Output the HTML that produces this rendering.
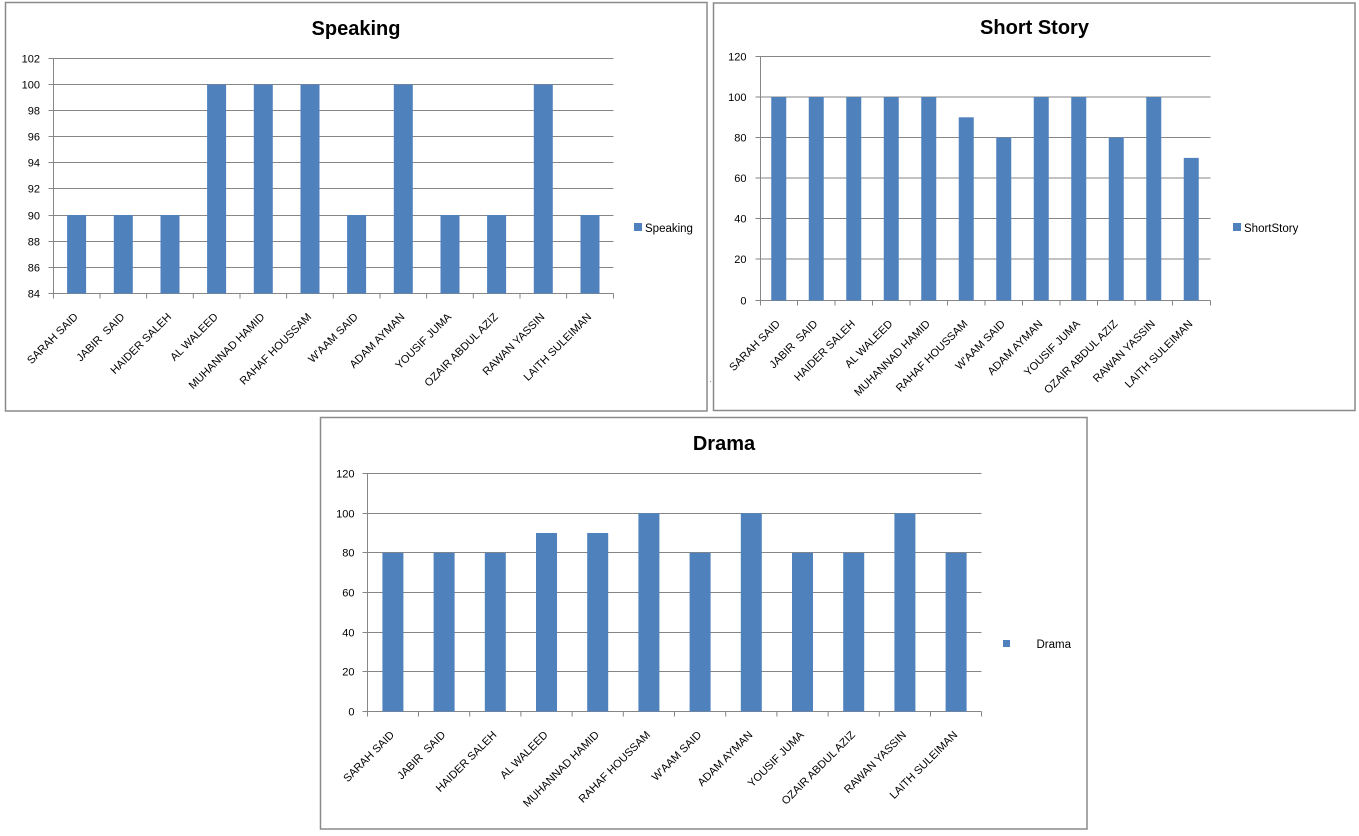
<!DOCTYPE html>
<html><head><meta charset="utf-8"><style>
html,body{margin:0;padding:0;background:#fff;}
svg{display:block;}
text{font-family:"Liberation Sans",Arial,sans-serif;fill:#000;}
.t{font-size:20px;font-weight:bold;text-anchor:middle;}
.y{font-size:11px;text-anchor:end;}
.c{font-size:11px;text-anchor:end;}
.l{font-size:11.5px;}
.g{stroke:#868686;stroke-width:1;fill:none;}
.b{fill:#4F81BD;}
.box{fill:#fff;stroke:#8a8a8a;stroke-width:1.5;}
</style></head><body>
<svg width="1359" height="836" viewBox="0 0 1359 836" xmlns="http://www.w3.org/2000/svg">
<rect x="0" y="0" width="1359" height="836" fill="#fff"/>

<!-- ================= SPEAKING ================= -->
<rect class="box" x="5.5" y="2.5" width="701.5" height="408.5"/>
<text class="t" x="356" y="35">Speaking</text>
<g class="g">
<path d="M53.5 58.5H613.5M53.5 84.5H613.5M53.5 110.5H613.5M53.5 136.5H613.5M53.5 162.5H613.5M53.5 188.5H613.5M53.5 215.5H613.5M53.5 241.5H613.5M53.5 267.5H613.5M53.5 293.5H613.5"/>
<path d="M53.5 58.5V293.5"/>
<path d="M48.5 58.5H53.5M48.5 84.5H53.5M48.5 110.5H53.5M48.5 136.5H53.5M48.5 162.5H53.5M48.5 188.5H53.5M48.5 215.5H53.5M48.5 241.5H53.5M48.5 267.5H53.5M48.5 293.5H53.5"/>
<path d="M53.5 293.5v5M100 293.5v5M146.6 293.5v5M193.3 293.5v5M240 293.5v5M286.6 293.5v5M333.3 293.5v5M380 293.5v5M426.6 293.5v5M473.3 293.5v5M520 293.5v5M566.6 293.5v5M613.5 293.5v5"/>
</g>
<g class="b">
<rect x="67.1" y="215" width="19" height="78.5"/>
<rect x="113.8" y="215" width="19" height="78.5"/>
<rect x="160.5" y="215" width="19" height="78.5"/>
<rect x="207.1" y="84.5" width="19" height="209"/>
<rect x="253.8" y="84.5" width="19" height="209"/>
<rect x="300.5" y="84.5" width="19" height="209"/>
<rect x="347.1" y="215" width="19" height="78.5"/>
<rect x="393.8" y="84.5" width="19" height="209"/>
<rect x="440.5" y="215" width="19" height="78.5"/>
<rect x="487.1" y="215" width="19" height="78.5"/>
<rect x="533.8" y="84.5" width="19" height="209"/>
<rect x="580.5" y="215" width="19" height="78.5"/>
</g>
<text class="y" x="40" y="62.5">102</text>
<text class="y" x="40" y="88.5">100</text>
<text class="y" x="40" y="114.5">98</text>
<text class="y" x="40" y="140.5">96</text>
<text class="y" x="40" y="166.5">94</text>
<text class="y" x="40" y="192.5">92</text>
<text class="y" x="40" y="219.5">90</text>
<text class="y" x="40" y="245.5">88</text>
<text class="y" x="40" y="271.5">86</text>
<text class="y" x="40" y="297.5">84</text>
<text class="c" transform="translate(78.6,317.5) rotate(-45)">SARAH SAID</text>
<text class="c" transform="translate(125.3,317.5) rotate(-45)" xml:space="preserve">JABIR  SAID</text>
<text class="c" transform="translate(172,317.5) rotate(-45)">HAIDER SALEH</text>
<text class="c" transform="translate(218.6,317.5) rotate(-45)">AL WALEED</text>
<text class="c" transform="translate(265.3,317.5) rotate(-45)">MUHANNAD HAMID</text>
<text class="c" transform="translate(312,317.5) rotate(-45)">RAHAF HOUSSAM</text>
<text class="c" transform="translate(358.6,317.5) rotate(-45)">W'AAM SAID</text>
<text class="c" transform="translate(405.3,317.5) rotate(-45)">ADAM AYMAN</text>
<text class="c" transform="translate(452,317.5) rotate(-45)">YOUSIF JUMA</text>
<text class="c" transform="translate(498.6,317.5) rotate(-45)">OZAIR ABDUL AZIZ</text>
<text class="c" transform="translate(545.3,317.5) rotate(-45)">RAWAN YASSIN</text>
<text class="c" transform="translate(592,317.5) rotate(-45)">LAITH SULEIMAN</text>
<rect class="b" x="634" y="223" width="8" height="8"/>
<text class="l" x="645" y="232">Speaking</text>

<!-- tiny dot -->
<rect x="710" y="381" width="1" height="1" fill="#999"/>

<!-- ================= SHORT STORY ================= -->
<rect class="box" x="713.5" y="3" width="641.5" height="407.5"/>
<text class="t" x="1034.5" y="34">Short Story</text>
<g class="g">
<path d="M760.5 56.5H1210.5M760.5 97H1210.5M760.5 137.5H1210.5M760.5 178H1210.5M760.5 218.5H1210.5M760.5 259H1210.5M760.5 300.5H1210.5"/>
<path d="M760.5 56.5V300.5"/>
<path d="M755.5 56.5H760.5M755.5 97H760.5M755.5 137.5H760.5M755.5 178H760.5M755.5 218.5H760.5M755.5 259H760.5M755.5 300.5H760.5"/>
<path d="M760.5 300.5v5M797.5 300.5v5M835 300.5v5M872.5 300.5v5M910 300.5v5M947.5 300.5v5M985 300.5v5M1022.5 300.5v5M1060 300.5v5M1097.5 300.5v5M1135 300.5v5M1172.5 300.5v5M1210.5 300.5v5"/>
</g>
<g class="b">
<rect x="771.25" y="97" width="15" height="203.5"/>
<rect x="808.75" y="97" width="15" height="203.5"/>
<rect x="846.25" y="97" width="15" height="203.5"/>
<rect x="883.75" y="97" width="15" height="203.5"/>
<rect x="921.25" y="97" width="15" height="203.5"/>
<rect x="958.75" y="117.3" width="15" height="183.2"/>
<rect x="996.25" y="137.5" width="15" height="163"/>
<rect x="1033.75" y="97" width="15" height="203.5"/>
<rect x="1071.25" y="97" width="15" height="203.5"/>
<rect x="1108.75" y="137.5" width="15" height="163"/>
<rect x="1146.25" y="97" width="15" height="203.5"/>
<rect x="1183.75" y="157.9" width="15" height="142.6"/>
</g>
<text class="y" x="746.5" y="60.5">120</text>
<text class="y" x="746.5" y="101">100</text>
<text class="y" x="746.5" y="141.5">80</text>
<text class="y" x="746.5" y="182">60</text>
<text class="y" x="746.5" y="222.5">40</text>
<text class="y" x="746.5" y="263">20</text>
<text class="y" x="746.5" y="304.5">0</text>
<text class="c" transform="translate(780.75,324.5) rotate(-45)">SARAH SAID</text>
<text class="c" transform="translate(818.25,324.5) rotate(-45)" xml:space="preserve">JABIR  SAID</text>
<text class="c" transform="translate(855.75,324.5) rotate(-45)">HAIDER SALEH</text>
<text class="c" transform="translate(893.25,324.5) rotate(-45)">AL WALEED</text>
<text class="c" transform="translate(930.75,324.5) rotate(-45)">MUHANNAD HAMID</text>
<text class="c" transform="translate(968.25,324.5) rotate(-45)">RAHAF HOUSSAM</text>
<text class="c" transform="translate(1005.75,324.5) rotate(-45)">W'AAM SAID</text>
<text class="c" transform="translate(1043.25,324.5) rotate(-45)">ADAM AYMAN</text>
<text class="c" transform="translate(1080.75,324.5) rotate(-45)">YOUSIF JUMA</text>
<text class="c" transform="translate(1118.25,324.5) rotate(-45)">OZAIR ABDUL AZIZ</text>
<text class="c" transform="translate(1155.75,324.5) rotate(-45)">RAWAN YASSIN</text>
<text class="c" transform="translate(1193.25,324.5) rotate(-45)">LAITH SULEIMAN</text>
<rect class="b" x="1233" y="223" width="8" height="8"/>
<text class="l" x="1244" y="232">ShortStory</text>

<!-- ================= DRAMA ================= -->
<rect class="box" x="320.5" y="417.5" width="766.5" height="411.5"/>
<text class="t" x="724" y="450">Drama</text>
<g class="g">
<path d="M367.5 473.5H981.5M367.5 513.5H981.5M367.5 552.5H981.5M367.5 592.5H981.5M367.5 632.5H981.5M367.5 671.5H981.5M367.5 711.5H981.5"/>
<path d="M367.5 473.5V711.5"/>
<path d="M362.5 473.5H367.5M362.5 513.5H367.5M362.5 552.5H367.5M362.5 592.5H367.5M362.5 632.5H367.5M362.5 671.5H367.5M362.5 711.5H367.5"/>
<path d="M367.5 711.5v5M418.5 711.5v5M469.7 711.5v5M520.9 711.5v5M572.1 711.5v5M623.3 711.5v5M674.5 711.5v5M725.7 711.5v5M776.9 711.5v5M828.1 711.5v5M879.3 711.5v5M930.5 711.5v5M981.5 711.5v5"/>
</g>
<g class="b">
<rect x="382.4" y="552.8" width="21" height="158.7"/>
<rect x="433.6" y="552.8" width="21" height="158.7"/>
<rect x="484.8" y="552.8" width="21" height="158.7"/>
<rect x="536" y="533" width="21" height="178.5"/>
<rect x="587.2" y="533" width="21" height="178.5"/>
<rect x="638.4" y="513.2" width="21" height="198.3"/>
<rect x="689.6" y="552.8" width="21" height="158.7"/>
<rect x="740.8" y="513.2" width="21" height="198.3"/>
<rect x="792" y="552.8" width="21" height="158.7"/>
<rect x="843.2" y="552.8" width="21" height="158.7"/>
<rect x="894.4" y="513.2" width="21" height="198.3"/>
<rect x="945.6" y="552.8" width="21" height="158.7"/>
</g>
<text class="y" x="354.5" y="477.5">120</text>
<text class="y" x="354.5" y="517.5">100</text>
<text class="y" x="354.5" y="556.5">80</text>
<text class="y" x="354.5" y="596.5">60</text>
<text class="y" x="354.5" y="636.5">40</text>
<text class="y" x="354.5" y="675.5">20</text>
<text class="y" x="354.5" y="715.5">0</text>
<text class="c" transform="translate(394.9,735.5) rotate(-45)">SARAH SAID</text>
<text class="c" transform="translate(446.1,735.5) rotate(-45)" xml:space="preserve">JABIR  SAID</text>
<text class="c" transform="translate(497.3,735.5) rotate(-45)">HAIDER SALEH</text>
<text class="c" transform="translate(548.5,735.5) rotate(-45)">AL WALEED</text>
<text class="c" transform="translate(599.7,735.5) rotate(-45)">MUHANNAD HAMID</text>
<text class="c" transform="translate(650.9,735.5) rotate(-45)">RAHAF HOUSSAM</text>
<text class="c" transform="translate(702.1,735.5) rotate(-45)">W'AAM SAID</text>
<text class="c" transform="translate(753.3,735.5) rotate(-45)">ADAM AYMAN</text>
<text class="c" transform="translate(804.5,735.5) rotate(-45)">YOUSIF JUMA</text>
<text class="c" transform="translate(855.7,735.5) rotate(-45)">OZAIR ABDUL AZIZ</text>
<text class="c" transform="translate(906.9,735.5) rotate(-45)">RAWAN YASSIN</text>
<text class="c" transform="translate(958.1,735.5) rotate(-45)">LAITH SULEIMAN</text>
<rect class="b" x="1003" y="640" width="7" height="7"/>
<text class="l" x="1036.5" y="648">Drama</text>
</svg>
</body></html>
